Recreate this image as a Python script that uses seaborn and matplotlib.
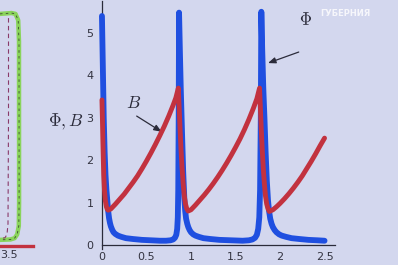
import numpy as np
import pandas as pd
import matplotlib
matplotlib.use("Agg")
import matplotlib.pyplot as plt
from matplotlib.ticker import MultipleLocator
import seaborn as sns

# ---- data ----
t_phi = [0, 0.01, 0.02, 0.03, 0.04, 0.05, 0.06, 0.07, 0.08, 0.09, 0.1, 0.115, 0.13, 0.15, 0.18,
         0.22, 0.27, 0.35, 0.45, 0.55, 0.65, 0.72, 0.77, 0.8, 0.82, 0.835, 0.845, 0.852, 0.857,
         0.862, 0.866,
         0.875, 0.885, 0.9, 0.912, 0.925, 0.935, 0.945, 0.958, 0.97, 0.985, 1.0, 1.025, 1.05, 1.09,
         1.14, 1.22, 1.32, 1.45, 1.58, 1.65, 1.69, 1.72, 1.74, 1.755, 1.767, 1.776, 1.784, 1.79,
         1.8, 1.812, 1.825, 1.838, 1.852, 1.865, 1.877, 1.89, 1.905, 1.92, 1.94, 1.96, 1.99, 2.02,
         2.07, 2.13, 2.22, 2.32, 2.42, 2.5]
phi = [5.4, 4.2, 3.0, 2.2, 1.65, 1.3, 1.05, 0.8, 0.63, 0.52, 0.44, 0.36, 0.3, 0.26, 0.22,
       0.19, 0.16, 0.14, 0.12, 0.11, 0.1, 0.1, 0.11, 0.13, 0.17, 0.24, 0.38, 0.65, 1.3,
       3.0, 5.48,
       4.6, 3.7, 2.6, 1.75, 1.1, 0.8, 0.62, 0.5, 0.42, 0.35, 0.3, 0.25, 0.22, 0.19,
       0.16, 0.14, 0.12, 0.11, 0.1, 0.11, 0.13, 0.17, 0.24, 0.38, 0.65, 1.3, 3.0, 5.5,
       4.6, 3.7, 3.0, 2.2, 1.5, 1.05, 0.8, 0.62, 0.5, 0.42, 0.35, 0.3, 0.25, 0.22,
       0.19, 0.16, 0.14, 0.12, 0.11, 0.1]

t_b = [0, 0.005, 0.01, 0.015, 0.02, 0.028, 0.038, 0.05, 0.06, 0.07, 0.1, 0.15, 0.2, 0.25, 0.3,
       0.35, 0.4, 0.45, 0.5, 0.55, 0.6, 0.65, 0.7, 0.75, 0.8, 0.83, 0.858,
       0.868, 0.878, 0.888, 0.9, 0.912, 0.925, 0.938, 0.952, 0.968,
       1.0, 1.05, 1.1, 1.15, 1.2, 1.25, 1.3, 1.35, 1.4, 1.45, 1.5, 1.55, 1.6, 1.65, 1.7, 1.74, 1.77,
       1.78, 1.79, 1.8, 1.812, 1.824, 1.837, 1.85, 1.864, 1.88,
       1.92, 1.96, 2.0, 2.05, 2.1, 2.15, 2.2, 2.25, 2.3, 2.35, 2.4, 2.45, 2.5]
b_vals = [3.42, 3.0, 2.5, 2.05, 1.65, 1.3, 1.05, 0.9, 0.84, 0.82, 0.85, 0.96, 1.08, 1.2, 1.34,
          1.48, 1.63, 1.8, 1.98, 2.17, 2.37, 2.58, 2.8, 3.04, 3.3, 3.47, 3.7,
          3.2, 2.7, 2.25, 1.8, 1.45, 1.15, 0.97, 0.86, 0.8,
          0.83, 0.94, 1.06, 1.18, 1.31, 1.45, 1.6, 1.76, 1.93, 2.11, 2.3, 2.5, 2.72, 2.96, 3.22, 3.45, 3.7,
          3.2, 2.7, 2.25, 1.8, 1.45, 1.15, 0.97, 0.86, 0.79,
          0.83, 0.9, 0.98, 1.09, 1.21, 1.34, 1.48, 1.63, 1.8, 1.97, 2.15, 2.34, 2.52]

# partially visible left panel
left_x = [3.41, 3.525, 3.565, 3.592, 3.6, 3.601, 3.598, 3.582, 3.556, 3.515, 3.41]
left_y = [5.45, 5.47, 5.45, 5.3, 4.8, 1.0, 0.45, 0.25, 0.16, 0.13, 0.12]
left_dash_x = [3.495, 3.495, 3.49, 3.48, 3.46, 3.41]
left_dash_y = [5.35, 3.0, 0.5, 0.25, 0.17, 0.15]

x_ticks = [0, 0.5, 1, 1.5, 2, 2.5]
x_tick_labels = ["0", "0.5", "1", "1.5", "2", "2.5"]
y_ticks = [0, 1, 2, 3, 4, 5]
y_tick_labels = ["0", "1", "2", "3", "4", "5"]

BG = "#d3d7ee"
BLUE = "#1f4fe0"
RED = "#c2323f"
GREEN = "#8ad45c"
INK = "#2b2b3a"

sns.set_style("white")
plt.rcParams["mathtext.fontset"] = "cm"
plt.rcParams["font.family"] = ["DejaVu Sans"]

fig = plt.figure(figsize=(3.98, 2.65), dpi=100, facecolor=BG)

# ---- main axes ----
ax = fig.add_axes([97.5 / 398, 0.0596, 240.4 / 398, 0.936])
ax.set_facecolor(BG)
df_phi = pd.DataFrame({"t": t_phi, "v": phi})
df_b = pd.DataFrame({"t": t_b, "v": b_vals})
sns.lineplot(data=df_phi, x="t", y="v", sort=False, estimator=None, color=BLUE, linewidth=4.2,
             ax=ax, solid_capstyle="round", solid_joinstyle="round", zorder=3)
sns.lineplot(data=df_b, x="t", y="v", sort=False, estimator=None, color=RED, linewidth=3.5,
             ax=ax, solid_capstyle="round", solid_joinstyle="round", zorder=4)
ax.set_xlim(-0.05, 2.65)
ax.set_ylim(-0.1, 5.75)
for s in ["top", "right"]:
    ax.spines[s].set_visible(False)
ax.spines["left"].set_position(("data", 0))
ax.spines["bottom"].set_position(("data", 0))
ax.spines["bottom"].set_bounds(0, 2.62)
for s in ["left", "bottom"]:
    ax.spines[s].set_color(INK)
    ax.spines[s].set_linewidth(0.9)
ax.set_xticks(x_ticks)
ax.set_xticklabels(x_tick_labels)
ax.set_yticks(y_ticks)
ax.set_yticklabels(y_tick_labels)
ax.xaxis.set_minor_locator(MultipleLocator(0.1))
ax.yaxis.set_minor_locator(MultipleLocator(0.2))
ax.tick_params(which="major", direction="inout", length=6, width=0.8, color=INK,
               labelsize=8, labelcolor="#333340")
ax.tick_params(which="minor", direction="inout", length=4, width=0.7, color=INK)
ax.tick_params(axis="x", pad=2)
ax.tick_params(axis="y", pad=3)
ax.set_xlabel("")
ax.set_ylabel("")

arrow = dict(arrowstyle="-|>,head_length=0.45,head_width=0.18", color=INK, lw=0.9,
             shrinkA=0, shrinkB=0)
ax.text(0.35, 3.35, r"$B$", fontsize=12.5, color=INK, ha="center", va="center")
ax.annotate("", xy=(0.67, 2.67), xytext=(0.39, 3.04), arrowprops=arrow)
ax.text(2.29, 5.31, r"$\Phi$", fontsize=12, color=INK, ha="center", va="center")
ax.annotate("", xy=(1.865, 4.29), xytext=(2.21, 4.55), arrowprops=arrow)

fig.text(66 / 398, 1 - 122 / 265, r"$\Phi, B$", fontsize=12.5, color=INK, ha="center", va="center")
fig.text(345 / 398, 1 - 13 / 265, "ГУБЕРНИЯ", fontsize=6, color="white", alpha=0.8,
         ha="center", va="center", fontweight="bold")

# ---- left partial panel ----
axl = fig.add_axes([0, 0.0596, 40 / 398, 0.936])
axl.set_facecolor("none")
df_l = pd.DataFrame({"x": left_x, "y": left_y})
df_ld = pd.DataFrame({"x": left_dash_x, "y": left_dash_y})
sns.lineplot(data=df_l, x="x", y="y", sort=False, estimator=None, color=GREEN, linewidth=3.2,
             ax=axl, solid_joinstyle="round")
sns.lineplot(data=df_l, x="x", y="y", sort=False, estimator=None, color="#3c4a30", linewidth=0.6,
             ax=axl, linestyle=(0, (3, 4)))
sns.lineplot(data=df_ld, x="x", y="y", sort=False, estimator=None, color="#8a3a6a", linewidth=0.8,
             ax=axl, linestyle=(0, (4, 3)))
axl.set_xlim(3.41, 3.81)
axl.set_ylim(-0.1, 5.75)
for s in ["top", "right", "left"]:
    axl.spines[s].set_visible(False)
axl.spines["bottom"].set_position(("data", -0.02))
axl.spines["bottom"].set_bounds(3.41, 3.74)
axl.spines["bottom"].set_color(RED)
axl.spines["bottom"].set_linewidth(2.4)
axl.set_yticks([])
axl.set_xticks([3.5])
axl.set_xticklabels(["3.5"])
axl.xaxis.set_minor_locator(MultipleLocator(0.05))
axl.tick_params(which="both", direction="in", length=4, width=0.8, color=RED,
                labelsize=8, labelcolor="#333340", pad=3)
axl.set_xlabel("")
axl.set_ylabel("")

fig.savefig("out.png", dpi=100, facecolor=BG)
